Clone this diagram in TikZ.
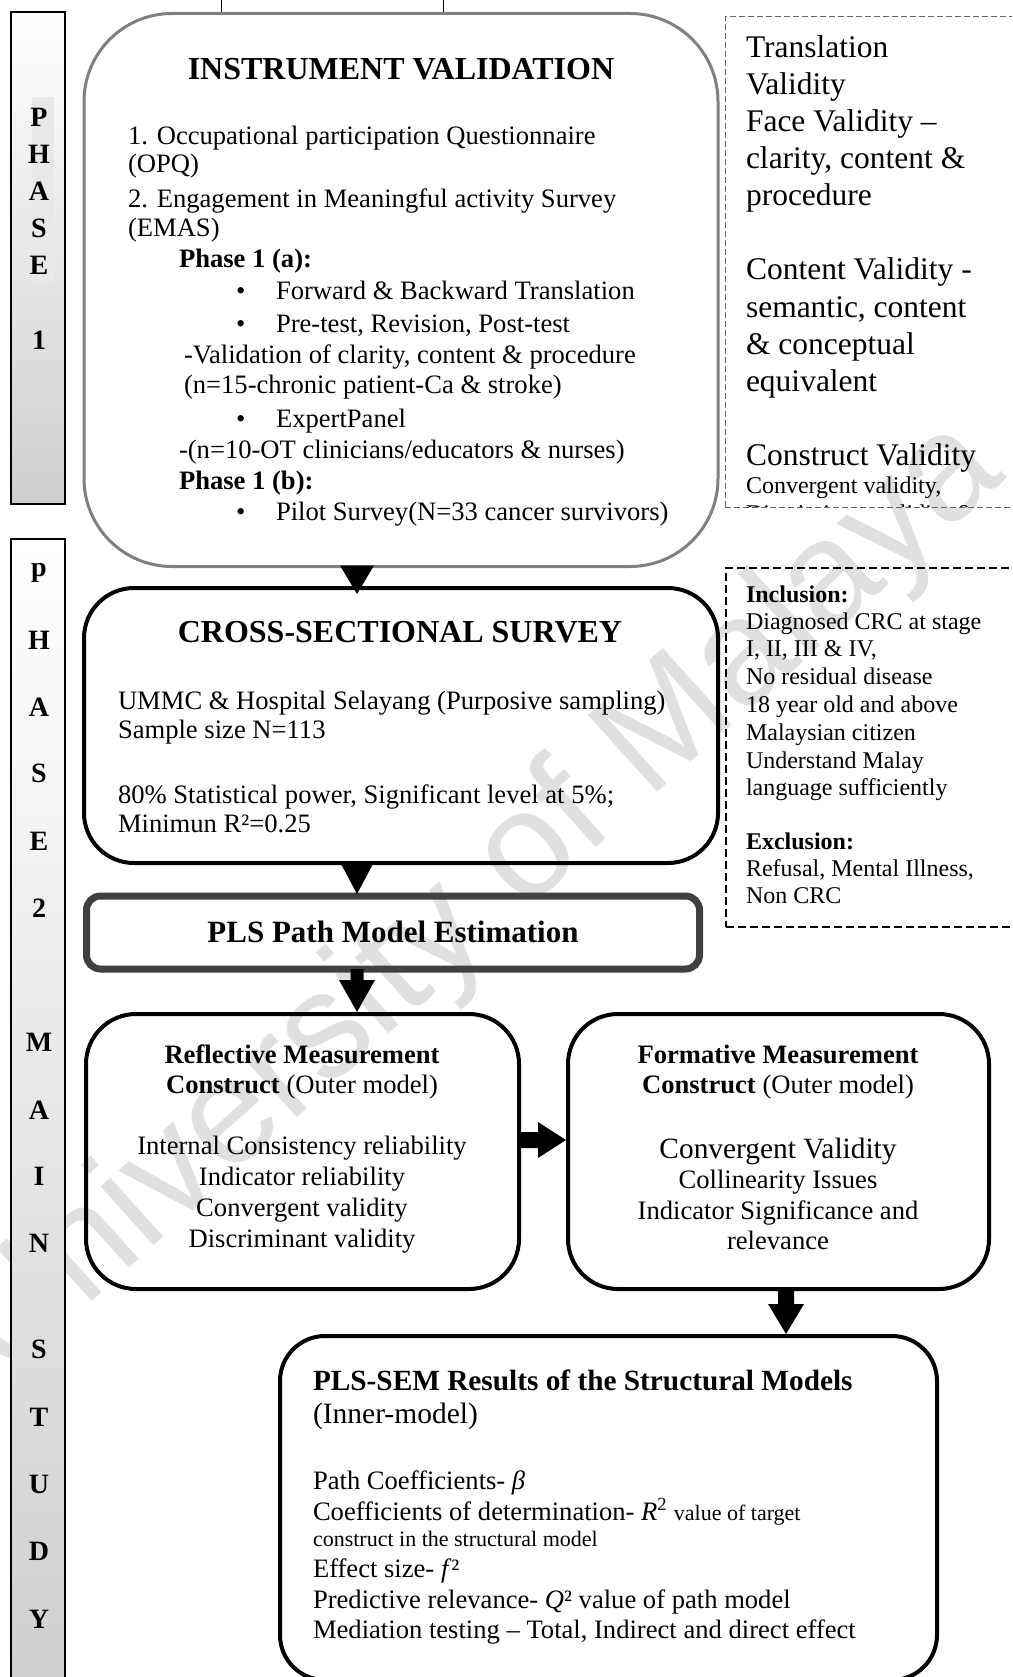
\documentclass[tikz,border=0pt]{standalone}
\usepackage{fontspec}
\setmainfont{Liberation Serif}
\newfontfamily\markfont{Liberation Sans}
\usetikzlibrary{calc}

% type sizes (1pt of the picture = 1 unit)
\newcommand\szBody{\fontsize{26.6}{31}\selectfont}
\newcommand\szTitle{\fontsize{32}{37}\selectfont\bfseries}
\newcommand\szSide{\fontsize{31.5}{37}\selectfont}
\newcommand\szSmall{\fontsize{24}{28}\selectfont}
\newcommand\szTiny{\fontsize{22}{26}\selectfont}

\begin{document}
\begin{tikzpicture}[x=1pt,y=-1pt,
  every node/.style={inner sep=0pt, outer sep=0pt},
  tl/.style={anchor=base west, font=\szBody},
  tc/.style={anchor=base, font=\szBody},
  phasebar/.style={draw=black, line width=2pt, top color=white, bottom color=black!19},
  phaseletter/.style={anchor=base, font=\fontsize{28}{30}\selectfont\bfseries},
  ivbox/.style={draw=black!50, line width=3pt, rounded corners=88pt},
  flowbox/.style={draw=black, line width=4pt, rounded corners=50pt},
  estbox/.style={draw=black!75, line width=7pt, rounded corners=14pt},
  notebox/.style={draw=black!60, line width=1pt, dash pattern=on 6pt off 3pt},
  inclbox/.style={draw=black, line width=1.5pt, dash pattern=on 8pt off 4pt},
  blockarrow/.style={fill=black},
]
\useasboundingbox (0,0) rectangle (1012,1677);
\clip (0,0) rectangle (1012,1677);
\fill[white] (0,0) rectangle (1012,1677);

% watermark
\node[font=\markfont\fontsize{150}{150}\selectfont, text=black!12, rotate=42] (wm) at (480,900) {University of Malaya};

% phase bars
\node[phasebar, minimum width=54pt, minimum height=492pt] (ph1) at (38,258) {};
\fill[black!9] (32,97) rectangle (54,282);
\foreach \l/\y [count=\i] in {P/127,H/164,A/201,S/238,E/275,1/349}
  \node[phaseletter] (pa\i) at (39,\y) {\l};
\node[phasebar, minimum width=54pt, minimum height=1161pt] (ph2) at (38,1119.5) {};
\foreach \l/\y [count=\i] in {p/576,H/649,A/716,S/782,E/850,2/917,M/1051,A/1119,I/1185,N/1252,S/1358,T/1426,U/1493,D/1560,Y/1628}
  \node[phaseletter] (pb\i) at (39,\y) {\l};

% short rules above the first box
\coordinate (r1a) at (221,0); \coordinate (r1b) at (221,12);
\coordinate (r2a) at (443,0); \coordinate (r2b) at (443,12);
\draw[line width=1pt] (r1a) -- (r1b);
\draw[line width=1pt] (r2a) -- (r2b);

% main boxes
\node[ivbox, minimum width=634pt, minimum height=553pt] (iv) at (401,290) {};
\node[flowbox, minimum width=634pt, minimum height=275pt] (cs) at (401,725.5) {};
\node[estbox, minimum width=613pt, minimum height=73pt] (pls) at (393,932.5) {};
\node[flowbox, minimum width=433pt, minimum height=275pt] (ref) at (302.5,1151.5) {};
\node[flowbox, minimum width=421pt, minimum height=275pt] (fm) at (778.5,1151.5) {};
\node[flowbox, minimum width=657pt, minimum height=344pt, rounded corners=45pt] (sem) at (608.5,1508) {};

% instrument validation
\node[tc, font=\szTitle] (ivT) at (401,80) {INSTRUMENT VALIDATION};
\node[tl] (iv1) at (128,145) {1. Occupational participation Questionnaire};
\node[tl] (iv2) at (128,173) {(OPQ)};
\node[tl] (iv3) at (128,208) {2. Engagement in Meaningful activity Survey};
\node[tl] (iv4) at (128,237) {(EMAS)};
\node[tl, font=\szBody\bfseries] (iv5) at (179,268) {Phase 1 (a):};
\node[tl] (iv6b) at (236,300) {•};
\node[tl] (iv6) at (276,300) {Forward \& Backward Translation};
\node[tl] (iv7b) at (236,332) {•};
\node[tl] (iv7) at (276,332) {Pre-test, Revision, Post-test};
\node[tl] (iv8) at (184,363) {-Validation of clarity, content \& procedure};
\node[tl] (iv9) at (184,393) {(n=15-chronic patient-Ca \& stroke)};
\node[tl] (iv10b) at (236,427) {•};
\node[tl] (iv10) at (276,427) {ExpertPanel};
\node[tl] (iv11) at (179,458) {-(n=10-OT clinicians/educators \& nurses)};
\node[tl, font=\szBody\bfseries] (iv12) at (179,489) {Phase 1 (b):};
\node[tl] (iv13b) at (236,520) {•};
\node[tl] (iv13) at (276,520) {Pilot Survey(N=33 cancer survivors)};

% cross-sectional survey
\node[tc, font=\szTitle] (csT) at (400,642) {CROSS-SECTIONAL SURVEY};
\node[tl] (cs1) at (118,709) {UMMC \& Hospital Selayang (Purposive sampling)};
\node[tl] (cs2) at (118,738) {Sample size N=113};
\node[tl] (cs3) at (118,803) {80\% Statistical power, Significant level at 5\%;};
\node[tl] (cs4) at (118,832) {Minimun R²=0.25};

% estimation
\node[tc, font=\fontsize{31}{36}\selectfont\bfseries] (plsT) at (393,942) {PLS Path Model Estimation};

% reflective
\node[tc, font=\szBody\bfseries] (ref1) at (302,1063) {Reflective Measurement};
\node[tc] (ref2) at (302,1093) {\textbf{Construct} (Outer model)};
\node[tc] (ref3) at (302,1154) {Internal Consistency reliability};
\node[tc] (ref4) at (302,1185) {Indicator reliability};
\node[tc] (ref5) at (302,1216) {Convergent validity};
\node[tc] (ref6) at (302,1247) {Discriminant validity};

% formative
\node[tc, font=\szBody\bfseries] (fm1) at (778,1063) {Formative Measurement};
\node[tc] (fm2) at (778,1093) {\textbf{Construct} (Outer model)};
\node[tc, font=\fontsize{29.4}{34}\selectfont] (fm3) at (778,1158) {Convergent Validity};
\node[tc] (fm4) at (778,1188) {Collinearity Issues};
\node[tc] (fm5) at (778,1219) {Indicator Significance and};
\node[tc] (fm6) at (778,1249) {relevance};

% structural model
\node[tl, font=\fontsize{29.3}{34}\selectfont\bfseries] (sem1) at (313,1390) {PLS-SEM Results of the Structural Models};
\node[tl, font=\fontsize{29.5}{34}\selectfont] (sem2) at (313,1423) {(Inner-model)};
\node[tl] (sem3) at (313,1489) {Path Coefficients- \textit{β}};
\node[tl] (sem4) at (313,1520) {Coefficients of determination- \textit{R}\textsuperscript{2} {\szTiny value of target}};
\node[tl, font=\szTiny] (sem5) at (313,1546) {construct in the structural model};
\node[tl] (sem6) at (313,1577) {Effect size- \textit{f}²};
\node[tl] (sem7) at (313,1608) {Predictive relevance- \textit{Q}² value of path model};
\node[tl] (sem8) at (313,1638) {Mediation testing – Total, Indirect and direct effect};

% validity notes
\node[tl, font=\szSide] (v1) at (746,58) {Translation};
\node[tl, font=\szSide] (v2) at (746,95) {Validity};
\node[tl, font=\szSide] (v3) at (746,132) {Face Validity –};
\node[tl, font=\szSide] (v4) at (746,169) {clarity, content \&};
\node[tl, font=\szSide] (v5) at (746,206) {procedure};
\node[tl, font=\szSide] (v6) at (746,280) {Content Validity -};
\node[tl, font=\szSide] (v7) at (746,317) {semantic, content};
\node[tl, font=\szSide] (v8) at (746,354) {\& conceptual};
\node[tl, font=\szSide] (v9) at (746,391) {equivalent};
\node[tl, font=\szSide] (v10) at (746,465) {Construct Validity};
\node[tl, font=\szSmall] (v11) at (746,493) {Convergent validity,};
\begin{scope}
  \clip (725,0) rectangle (1012,506);
  \node[tl, font=\szSmall] (v12) at (746,521) {Discriminant validity \&};
\end{scope}
\node[notebox, minimum width=305pt, minimum height=490pt] (n1) at (877.5,262) {};

% sample criteria
\node[tl, font=\szSmall\bfseries] (c1) at (746,602) {Inclusion:};
\node[tl, font=\szSmall] (c2) at (746,629) {Diagnosed CRC at stage};
\node[tl, font=\szSmall] (c3) at (746,656) {I, II, III \& IV,};
\node[tl, font=\szSmall] (c4) at (746,684) {No residual disease};
\node[tl, font=\szSmall] (c5) at (746,712) {18 year old and above};
\node[tl, font=\szSmall] (c6) at (746,740) {Malaysian citizen};
\node[tl, font=\szSmall] (c7) at (746,768) {Understand Malay};
\node[tl, font=\szSmall] (c8) at (746,795) {language sufficiently};
\node[tl, font=\szSmall\bfseries] (c9) at (746,849) {Exclusion:};
\node[tl, font=\szSmall] (c10) at (746,876) {Refusal, Mental Illness,};
\node[tl, font=\szSmall] (c11) at (746,903) {Non CRC};
\node[inclbox, minimum width=304pt, minimum height=359pt] (n2) at (878,747.5) {};

% block arrows
\coordinate (ax) at (357,0);
\coordinate (bx) at (786,0);
\coordinate (ay) at (0,1140);
\fill[blockarrow] ($(iv.south -| ax)+(-17,-1)$) -- ($(iv.south -| ax)+(17,-1)$)
  -- ($(cs.north -| ax)+(0,6)$) -- cycle;
\fill[blockarrow] ($(cs.south -| ax)+(-17,-1)$) -- ($(cs.south -| ax)+(17,-1)$)
  -- ($(pls.north -| ax)+(0,-2)$) -- cycle;
\fill[blockarrow] ($(pls.south -| ax)+(-6.5,0)$) -- ($(pls.south -| ax)+(6.5,0)$)
  -- ($(ref.north -| ax)+(6.5,-34)$) -- ($(ref.north -| ax)+(18,-34)$)
  -- ($(ref.north -| ax)+(0,-2)$) -- ($(ref.north -| ax)+(-18,-34)$)
  -- ($(ref.north -| ax)+(-6.5,-34)$) -- cycle;
\fill[blockarrow] ($(ref.east |- ay)+(0,-8)$) -- ($(fm.west |- ay)+(-30,-8)$)
  -- ($(fm.west |- ay)+(-30,-18)$) -- ($(fm.west |- ay)+(-2,0)$)
  -- ($(fm.west |- ay)+(-30,18)$) -- ($(fm.west |- ay)+(-30,8)$)
  -- ($(ref.east |- ay)+(0,8)$) -- cycle;
\fill[blockarrow] ($(fm.south -| bx)+(-8,0)$) -- ($(fm.south -| bx)+(8,0)$)
  -- ($(sem.north -| bx)+(8,-32)$) -- ($(sem.north -| bx)+(18,-32)$)
  -- ($(sem.north -| bx)+(0,-2)$) -- ($(sem.north -| bx)+(-18,-32)$)
  -- ($(sem.north -| bx)+(-8,-32)$) -- cycle;
\end{tikzpicture}
\end{document}
